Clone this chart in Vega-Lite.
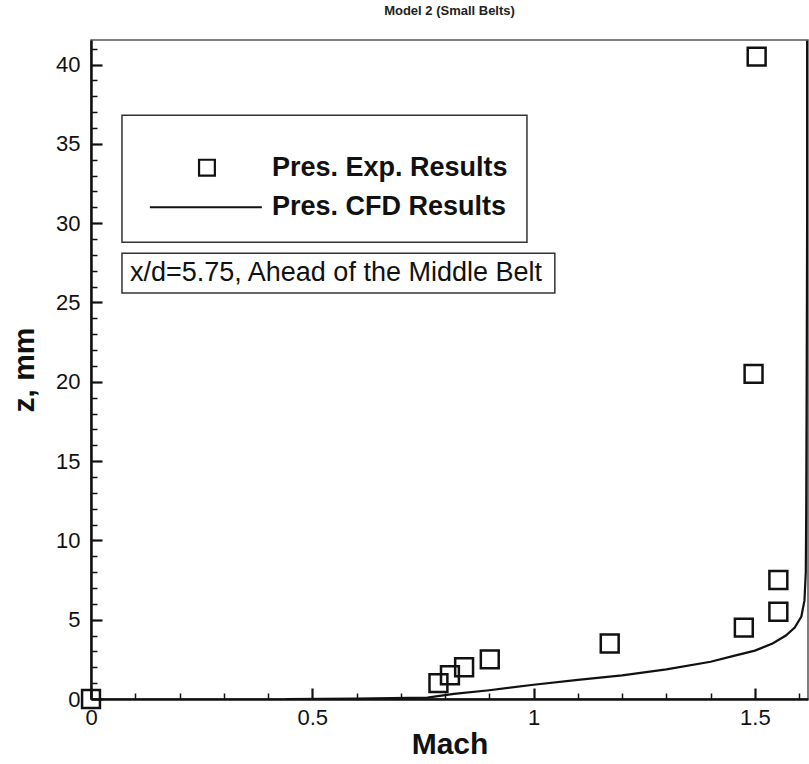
{
  "$schema": "https://vega.github.io/schema/vega-lite/v6.json",
  "autosize": {"type": "none"},
  "padding": {"left": 91, "top": 40, "right": 1, "bottom": 65},
  "width": 717,
  "height": 659,
  "background": "white",
  "title": {"text": "Model 2 (Small Belts)", "fontSize": 13, "font": "Liberation Sans", "fontWeight": "bold", "color": "#222", "offset": 22},
  "config": {
    "view": {"stroke": "#555", "strokeWidth": 1.5},
    "axis": {"grid": false, "labelFlush": false, "labelFont": "Liberation Sans", "titleFont": "Liberation Sans", "labelColor": "#111", "titleColor": "#111", "tickColor": "#111", "domainColor": "#111"}
  },
  "datasets": {
    "exp": [
      {"m": 0, "z": 0}, {"m": 0.785, "z": 1}, {"m": 0.811, "z": 1.5}, {"m": 0.843, "z": 2},
      {"m": 0.901, "z": 2.5}, {"m": 1.172, "z": 3.5}, {"m": 1.475, "z": 4.5}, {"m": 1.553, "z": 5.5},
      {"m": 1.553, "z": 7.5}, {"m": 1.497, "z": 20.5}, {"m": 1.504, "z": 40.5}
    ],
    "cfd": [
      {"m": 0.44, "z": 0}, {"m": 0.6, "z": 0.03}, {"m": 0.76, "z": 0.09}, {"m": 0.82, "z": 0.32},
      {"m": 0.9, "z": 0.55}, {"m": 1.0, "z": 0.9}, {"m": 1.1, "z": 1.2}, {"m": 1.2, "z": 1.49},
      {"m": 1.3, "z": 1.87}, {"m": 1.4, "z": 2.35}, {"m": 1.45, "z": 2.7}, {"m": 1.5, "z": 3.05},
      {"m": 1.54, "z": 3.5}, {"m": 1.57, "z": 4.0}, {"m": 1.59, "z": 4.5}, {"m": 1.605, "z": 5.2},
      {"m": 1.612, "z": 6.2}, {"m": 1.615, "z": 8}, {"m": 1.616, "z": 12}, {"m": 1.617, "z": 20},
      {"m": 1.618, "z": 30}, {"m": 1.618, "z": 41.5}
    ],
    "boxes": [
      {"x1": 0.07, "x2": 0.985, "y1": 28.8, "y2": 36.8},
      {"x1": 0.07, "x2": 1.048, "y1": 25.6, "y2": 28.1}
    ],
    "legtext": [
      {"m": 0.409, "z": 33.5, "label": "Pres. Exp. Results"},
      {"m": 0.409, "z": 31.0, "label": "Pres. CFD Results"}
    ],
    "note": [
      {"m": 0.088, "z": 26.85, "label": "x/d=5.75, Ahead of the Middle Belt"}
    ],
    "legsym": [{"m": 0.262, "z": 33.5}],
    "legline": [{"m": 0.133, "z": 31.0}, {"m": 0.386, "z": 31.0}]
  },
  "resolve": {"axis": {"x": "independent", "y": "independent"}},
  "layer": [
    {
      "data": {"name": "cfd"},
      "mark": {"type": "line", "color": "#111", "strokeWidth": 2.2, "clip": true},
      "encoding": {
        "x": {"field": "m", "type": "quantitative", "scale": {"domain": [0, 1.62], "nice": false, "zero": false},
          "axis": {"orient": "bottom", "values": [0, 0.5, 1, 1.5], "format": ".1~f", "tickSize": -11, "tickWidth": 2.2, "domainWidth": 2.5, "labelFontSize": 22, "labelPadding": 19, "title": "Mach", "titleFontSize": 30, "titleFontWeight": "bold", "titlePadding": 1}},
        "y": {"field": "z", "type": "quantitative", "scale": {"domain": [0, 41.55], "nice": false, "zero": false},
          "axis": {"orient": "left", "values": [0, 5, 10, 15, 20, 25, 30, 35, 40], "tickSize": -11, "tickWidth": 2.2, "domainWidth": 2.5, "labelFontSize": 22, "labelPadding": 22, "title": "z, mm", "titleFontSize": 30, "titleFontWeight": "bold", "titlePadding": 16}},
        "order": {"field": "z", "type": "quantitative"}
      }
    },
    {
      "data": {"name": "exp"},
      "mark": {"type": "point", "shape": "square", "filled": false, "stroke": "#111", "strokeWidth": 2.5, "size": 320, "opacity": 1, "clip": false},
      "encoding": {
        "x": {"field": "m", "type": "quantitative",
          "axis": {"orient": "bottom", "values": [0.1, 0.2, 0.3, 0.4, 0.6, 0.7, 0.8, 0.9, 1.1, 1.2, 1.3, 1.4, 1.6], "labels": false, "tickSize": -6, "tickWidth": 1.5, "domain": false, "title": null}},
        "y": {"field": "z", "type": "quantitative",
          "axis": {"orient": "left", "values": [1,2,3,4,6,7,8,9,11,12,13,14,16,17,18,19,21,22,23,24,26,27,28,29,31,32,33,34,36,37,38,39,41], "labels": false, "tickSize": -6, "tickWidth": 1.5, "domain": false, "title": null}}
      }
    },
    {
      "data": {"name": "boxes"},
      "mark": {"type": "rect", "fill": "white", "stroke": "#333", "strokeWidth": 1.5},
      "encoding": {
        "x": {"field": "x1", "type": "quantitative", "axis": null},
        "x2": {"field": "x2"},
        "y": {"field": "y1", "type": "quantitative", "axis": null},
        "y2": {"field": "y2"}
      }
    },
    {
      "data": {"name": "legsym"},
      "mark": {"type": "point", "shape": "square", "filled": false, "stroke": "#111", "strokeWidth": 2.2, "size": 250, "opacity": 1},
      "encoding": {
        "x": {"field": "m", "type": "quantitative", "axis": null},
        "y": {"field": "z", "type": "quantitative", "axis": null}
      }
    },
    {
      "data": {"name": "legline"},
      "mark": {"type": "line", "color": "#111", "strokeWidth": 2},
      "encoding": {
        "x": {"field": "m", "type": "quantitative", "axis": null},
        "y": {"field": "z", "type": "quantitative", "axis": null}
      }
    },
    {
      "data": {"name": "legtext"},
      "mark": {"type": "text", "align": "left", "baseline": "middle", "font": "Liberation Sans", "fontWeight": "bold", "fontSize": 27, "color": "#111"},
      "encoding": {
        "x": {"field": "m", "type": "quantitative", "axis": null},
        "y": {"field": "z", "type": "quantitative", "axis": null},
        "text": {"field": "label"}
      }
    },
    {
      "data": {"name": "note"},
      "mark": {"type": "text", "align": "left", "baseline": "middle", "font": "Liberation Sans", "fontSize": 27, "color": "#111"},
      "encoding": {
        "x": {"field": "m", "type": "quantitative", "axis": null},
        "y": {"field": "z", "type": "quantitative", "axis": null},
        "text": {"field": "label"}
      }
    }
  ]
}
